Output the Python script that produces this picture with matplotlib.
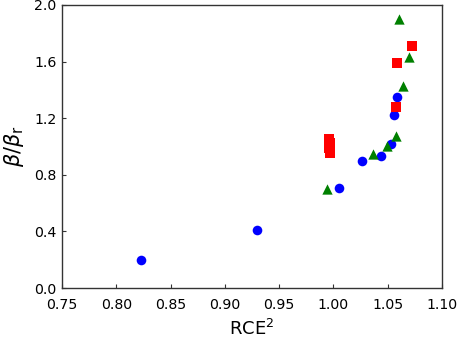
import matplotlib
matplotlib.use("Agg")
import matplotlib.pyplot as plt

# Blue circles
blue_x = [0.823, 0.930, 1.005, 1.026, 1.044, 1.053, 1.0555, 1.0586]
blue_y = [0.198, 0.410, 0.709, 0.900, 0.933, 1.015, 1.225, 1.352]

# Red squares
red_x = [0.9956, 0.997, 0.996, 0.997, 1.058, 1.059, 1.072]
red_y = [1.055, 1.025, 0.992, 0.955, 1.281, 1.592, 1.712]

# Green triangles
green_x = [0.9938, 1.036, 1.0496, 1.0576, 1.0644, 1.0696, 1.0607]
green_y = [0.702, 0.947, 1.006, 1.074, 1.430, 1.630, 1.899]

xticks = [0.75, 0.80, 0.85, 0.90, 0.95, 1.00, 1.05, 1.10]
yticks = [0.0, 0.4, 0.8, 1.2, 1.6, 2.0]

fig = plt.figure(figsize=(4.57, 3.38), dpi=100)
ax = fig.add_axes([62/457, 50/338, 380/457, 283/338])

ax.scatter(blue_x, blue_y, marker='o', s=48, color='blue', linewidths=0, zorder=3)
ax.scatter(red_x, red_y, marker='s', s=48, color='red', linewidths=0, zorder=3)
ax.scatter(green_x, green_y, marker='^', s=55, color='green', linewidths=0, zorder=3)

ax.set_xlim(0.75, 1.10)
ax.set_ylim(0.0, 2.0)
ax.set_xticks(xticks)
ax.set_xticklabels([f"{v:.2f}" for v in xticks])
ax.set_yticks(yticks)
ax.set_yticklabels([f"{v:.1f}" for v in yticks])
ax.tick_params(direction='in', length=3, width=0.8, labelsize=10.2, colors='#333333', labelcolor='black')
ax.tick_params(axis='x', pad=7)
ax.tick_params(axis='y', pad=4)
for sp in ax.spines.values():
    sp.set_color('#333333')
    sp.set_linewidth(1.0)

ax.set_xlabel(r"RCE$^2$", fontsize=13, labelpad=5)
ax.set_ylabel(r"$\beta/\beta_\mathrm{r}$", fontsize=15, labelpad=6)

fig.savefig("out.png", dpi=100)
